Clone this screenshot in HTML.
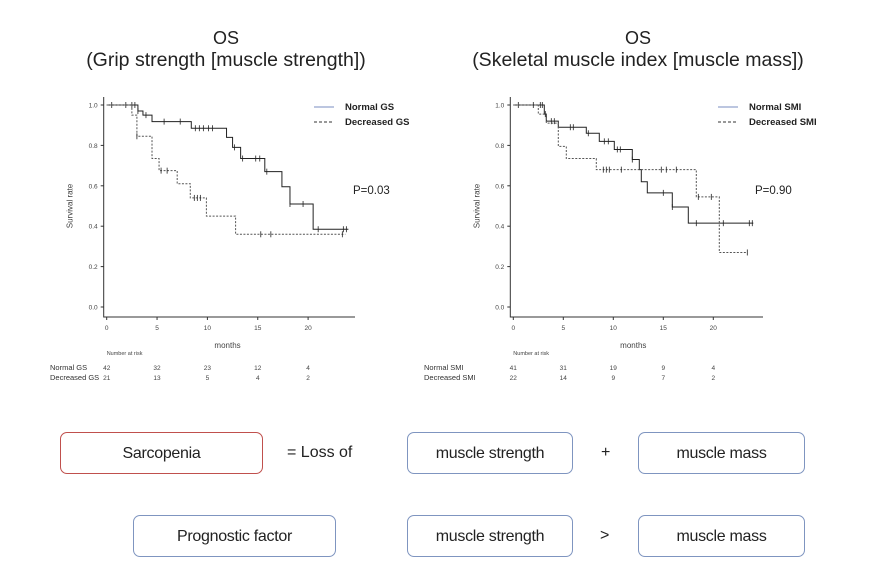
<!DOCTYPE html>
<html><head><meta charset="utf-8"><style>
body{margin:0;background:#fff;width:874px;height:578px;overflow:hidden;font-family:"Liberation Sans",sans-serif}
svg{position:absolute;left:0;top:0}
.box{position:absolute;border:1px solid #7f95c0;border-radius:7px;height:42px;line-height:42px;text-align:center;font-size:16px;color:#222;box-sizing:border-box;letter-spacing:-0.3px}
.op{position:absolute;font-size:16px;color:#222;line-height:42px}
</style></head><body>
<svg id="chart" width="874" height="420"></svg>
<div class="box" style="left:60px;top:432px;width:203px;border-color:#c0504d">Sarcopenia</div>
<div class="op" style="left:287px;top:432px">= Loss of</div>
<div class="box" style="left:407px;top:432px;width:166px">muscle strength</div>
<div class="op" style="left:601px;top:432px">+</div>
<div class="box" style="left:638px;top:432px;width:167px">muscle mass</div>
<div class="box" style="left:133px;top:515px;width:203px">Prognostic factor</div>
<div class="box" style="left:407px;top:515px;width:166px">muscle strength</div>
<div class="op" style="left:600px;top:515px">&gt;</div>
<div class="box" style="left:638px;top:515px;width:167px">muscle mass</div>
<script>
const xTicks=[0,5,10,15,20];
const yTicks=[0,0.2,0.4,0.6,0.8,1.0];
const gsNormalT=[0,3.1,3.6,4.5,8.4,11.9,12.5,13.3,15.7,17.4,18.2,20.5,24];
const gsNormalS=[1,0.97,0.95,0.918,0.885,0.84,0.79,0.735,0.67,0.595,0.51,0.385,0.385];
const gsNormalCT=[0.5,1.9,2.5,2.8,3.1,3.9,5.7,7.3,8.8,9.2,9.6,10.1,10.5,12.7,13.5,14.8,15.2,15.9,18.2,19.5,21,23.5,23.8];
const gsDecT=[0,2.5,3.0,4.5,5.2,7.0,8.3,9.9,12.8,23.7];
const gsDecS=[1,0.95,0.845,0.735,0.675,0.61,0.54,0.45,0.36,0.36];
const gsDecCT=[3.0,5.4,6.0,8.7,9.0,9.3,15.3,16.3,23.4];
const smiNormalT=[0,3.1,3.3,4.5,7.3,8.6,10.1,11.9,12.6,12.8,13.4,15.9,17.5,24];
const smiNormalS=[1,0.955,0.92,0.89,0.86,0.82,0.78,0.73,0.68,0.62,0.565,0.495,0.415,0.415];
const smiNormalCT=[0.5,2,2.7,2.9,3.2,3.8,4.1,5.7,6.0,7.5,9.1,9.5,10.4,10.7,11.9,15,15.9,18.3,21,23.6,23.9];
const smiDecT=[0,2.5,3.3,4.5,5.3,8.3,18.3,20.6,23.4];
const smiDecS=[1,0.955,0.91,0.795,0.735,0.68,0.545,0.27,0.27];
const smiDecCT=[9,9.3,9.6,10.8,14.8,15.3,16.3,18.5,19.8,23.4];
const gsRiskNormal=[42,32,23,12,4];
const gsRiskDec=[21,13,5,4,2];
const smiRiskNormal=[41,31,19,9,4];
const smiRiskDec=[22,14,9,7,2];
const svg=document.getElementById('chart');
const NS='http://www.w3.org/2000/svg';
function el(tag,attrs,text){const e=document.createElementNS(NS,tag);for(const k in attrs)e.setAttribute(k,attrs[k]);if(text!==undefined)e.textContent=text;svg.appendChild(e);return e;}
function panel(o){
  const sx=t=>o.x0+t*o.px, sy=v=>307-v*202;
  const ax=el('path',{d:`M${o.x0-3},97V${317}H${o.xEnd}`,stroke:'#333',fill:'none','stroke-width':1});
  
  yTicks.forEach(v=>{el('line',{x1:o.x0-6,x2:o.x0-3,y1:sy(v),y2:sy(v),stroke:'#333'});
    const t=el('text',{x:o.x0-9,y:sy(v)+2.5,'font-size':6.5,'text-anchor':'end',fill:'#444'},v.toFixed(1));
    });
  xTicks.forEach(v=>{el('line',{x1:sx(v),x2:sx(v),y1:317,y2:320,stroke:'#333'});
    const t=el('text',{x:sx(v),y:330,'font-size':6.5,'text-anchor':'middle',fill:'#444'},v);
    });
  const yl=el('text',{x:0,y:0,'font-size':8,'text-anchor':'middle',fill:'#444',transform:`translate(${o.x0-34},${sy(0.5)}) rotate(-90)`},'Survival rate');
  
  const xl=el('text',{x:sx(12),y:348,'font-size':8,'text-anchor':'middle',fill:'#444'},'months');
  
  function curve(T,S,C,dash,name){
    let d=`M${sx(T[0])},${sy(S[0])}`;
    for(let i=1;i<T.length;i++){d+=`H${sx(T[i])}V${sy(S[i])}`;}
    const p=el('path',{d,fill:'none',stroke:dash?'#555':'#222','stroke-width':1,'stroke-dasharray':dash?'2,1.5':'none'});
    
    C.forEach(c=>{let s=S[0];for(let i=0;i<T.length;i++){if(T[i]<=c)s=S[i];}
      const m=el('line',{x1:sx(c),x2:sx(c),y1:sy(s)-3,y2:sy(s)+3,stroke:'#222','stroke-width':0.8});
      });
  }
  curve(o.nT,o.nS,o.nC,false,o.id+'-normal-curve');
  curve(o.dT,o.dS,o.dC,true,o.id+'-decreased-curve');
  const t1=el('text',{x:o.cx,y:44,'font-size':18,'text-anchor':'middle',fill:'#222'},'OS');
  
  const t2=el('text',{x:o.cx,y:66,'font-size':19.5,'text-anchor':'middle',fill:'#222'},o.sub);
  
  el('line',{x1:o.lx,x2:o.lx+20,y1:107,y2:107,stroke:'#7a8cc0'});
  el('line',{x1:o.lx,x2:o.lx+20,y1:122,y2:122,stroke:'#333','stroke-dasharray':'3,2'});
  const l1=el('text',{x:o.lx+31,y:110,'font-size':9.5,'font-weight':'bold',fill:'#222'},o.l1);
  
  const l2=el('text',{x:o.lx+31,y:125,'font-size':9.5,'font-weight':'bold',fill:'#222'},o.l2);
  
  const pv=el('text',{x:o.px0,y:194,'font-size':11.5,fill:'#222'},o.p);
  
  const nr=el('text',{x:o.x0,y:355,'font-size':5.5,fill:'#444'},'Number at risk');
  
  el('text',{x:o.rl,y:370,'font-size':7.5,fill:'#333'},o.l1);
  el('text',{x:o.rl,y:380,'font-size':7.5,fill:'#333'},o.l2);
  xTicks.forEach((v,i)=>{
    const a=el('text',{x:sx(v),y:370,'font-size':6.5,'text-anchor':'middle',fill:'#444'},o.rn[i]);
    
    const b=el('text',{x:sx(v),y:380,'font-size':6.5,'text-anchor':'middle',fill:'#444'},o.rd[i]);
    });
}
panel({id:'gs',x0:106.7,px:10.07,xEnd:355,cx:226,sub:'(Grip strength [muscle strength])',lx:314,l1:'Normal GS',l2:'Decreased GS',p:'P=0.03',px0:353,rl:50,
  nT:gsNormalT,nS:gsNormalS,nC:gsNormalCT,dT:gsDecT,dS:gsDecS,dC:gsDecCT,rn:gsRiskNormal,rd:gsRiskDec});
panel({id:'smi',x0:513.3,px:10,xEnd:763,cx:638,sub:'(Skeletal muscle index [muscle mass])',lx:718,l1:'Normal SMI',l2:'Decreased SMI',p:'P=0.90',px0:755,rl:424,
  nT:smiNormalT,nS:smiNormalS,nC:smiNormalCT,dT:smiDecT,dS:smiDecS,dC:smiDecCT,rn:smiRiskNormal,rd:smiRiskDec});
</script>
</body></html>
